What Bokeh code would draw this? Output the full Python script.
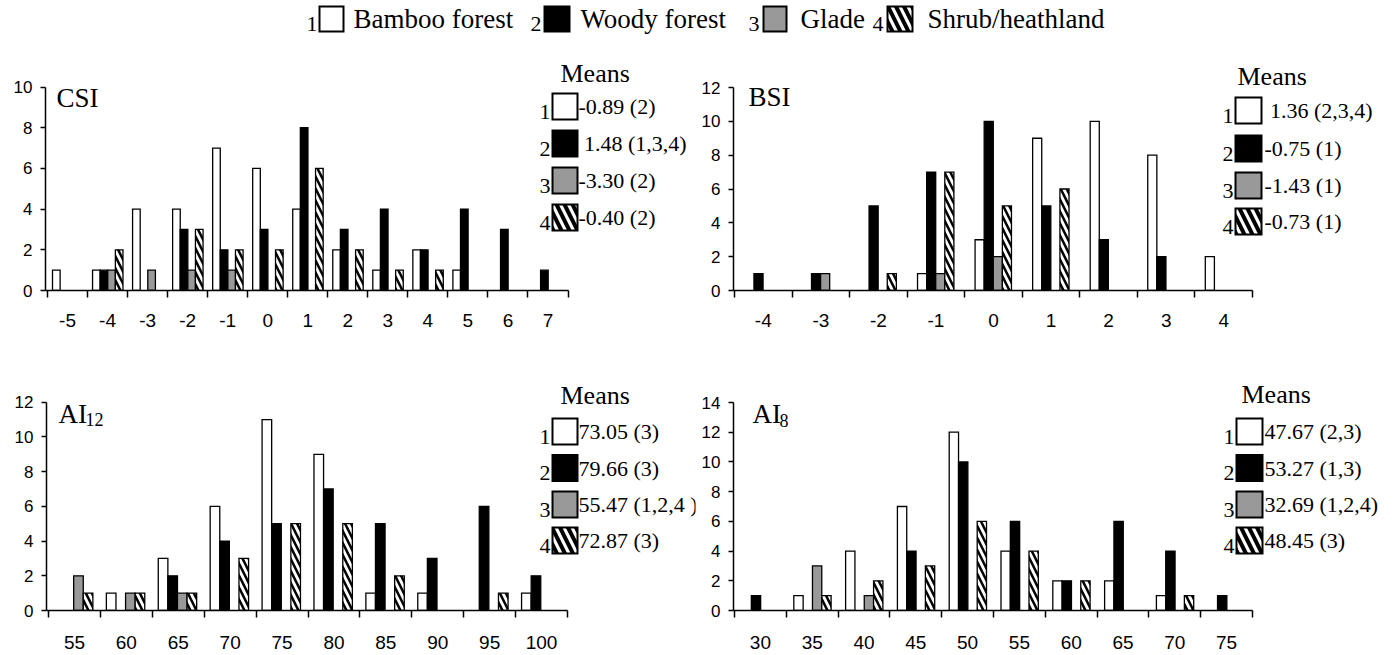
from bokeh.plotting import figure
from bokeh.layouts import column, row
from bokeh.models import FixedTicker, Range1d
from bokeh.core.properties import value
from bokeh.embed import file_html
from bokeh.resources import INLINE

# ---------------- data ----------------
series_names = ["Bamboo forest", "Woody forest", "Glade", "Shrub/heathland"]

csi_cats = ["-5", "-4", "-3", "-2", "-1", "0", "1", "2", "3", "4", "5", "6", "7"]
csi_bamboo = [1, 1, 4, 4, 7, 6, 4, 2, 1, 2, 1, 0, 0]
csi_woody = [0, 1, 0, 3, 2, 3, 8, 3, 4, 2, 4, 3, 1]
csi_glade = [0, 1, 1, 1, 1, 0, 0, 0, 0, 0, 0, 0, 0]
csi_shrub = [0, 2, 0, 3, 2, 2, 6, 2, 1, 1, 0, 0, 0]
csi_means = ["-0.89 (2)", "\u00a01.48 (1,3,4)", "-3.30 (2)", "-0.40 (2)"]

bsi_cats = ["-4", "-3", "-2", "-1", "0", "1", "2", "3", "4"]
bsi_bamboo = [0, 0, 0, 1, 3, 9, 10, 8, 2]
bsi_woody = [1, 1, 5, 7, 10, 5, 3, 2, 0]
bsi_glade = [0, 1, 0, 1, 2, 0, 0, 0, 0]
bsi_shrub = [0, 0, 1, 7, 5, 6, 0, 0, 0]
bsi_means = ["\u00a01.36 (2,3,4)", "-0.75 (1)", "-1.43 (1)", "-0.73 (1)"]

ai12_cats = ["55", "60", "65", "70", "75", "80", "85", "90", "95", "100"]
ai12_bamboo = [0, 1, 3, 6, 11, 9, 1, 1, 0, 1]
ai12_woody = [0, 0, 2, 4, 5, 7, 5, 3, 6, 2]
ai12_glade = [2, 1, 1, 0, 0, 0, 0, 0, 0, 0]
ai12_shrub = [1, 1, 1, 3, 5, 5, 2, 0, 1, 0]
ai12_means = ["73.05 (3)", "79.66 (3)", "55.47 (1,2,4 )", "72.87 (3)"]

ai8_cats = ["30", "35", "40", "45", "50", "55", "60", "65", "70", "75"]
ai8_bamboo = [0, 1, 4, 7, 12, 4, 2, 2, 1, 0]
ai8_woody = [1, 0, 0, 4, 10, 6, 2, 6, 4, 1]
ai8_glade = [0, 3, 1, 0, 0, 0, 0, 0, 0, 0]
ai8_shrub = [0, 1, 2, 3, 6, 4, 2, 0, 1, 0]
ai8_means = ["47.67 (2,3)", "53.27 (1,3)", "32.69 (1,2,4)", "48.45 (3)"]

# ---------------- styles ----------------
SERIF = value("Liberation Serif")
STYLES = [
    dict(fill_color="white", hatch_pattern=None),
    dict(fill_color="black", hatch_pattern=None),
    dict(fill_color="#999999", hatch_pattern=None),
    dict(fill_color="white", hatch_pattern="\\"),
]


def style_kw(k, scale=12, weight=2.5):
    st = STYLES[k]
    kw = dict(fill_color=st["fill_color"], line_color="black", line_join="miter")
    if st["hatch_pattern"]:
        kw.update(hatch_pattern=st["hatch_pattern"], hatch_color="black",
                  hatch_scale=scale, hatch_weight=weight)
    return kw


def add_text(p, x, y, txt, size, align="left"):
    p.text(x=[x], y=[y], text=[txt], text_font=SERIF, text_font_size=size,
           text_baseline="middle", text_align=align, text_color="black")


def build_panel(cfg):
    fig_x0, fig_y0, fig_w, fig_h = cfg["fig"]
    cats = cfg["cats"]
    n = len(cats)
    ax_x0, ax_x1 = cfg["ax_x0"], cfg["ax_x1"]
    frame_left = cfg["frame_left"]
    catw = (ax_x1 - ax_x0) / n
    y0_px, ytop_px, ymax = cfg["y0"], cfg["ytop"], cfg["ymax"]
    ppu = (y0_px - ytop_px) / ymax

    def X(px):
        return -0.5 + (px - ax_x0) / catw

    def Y(py):
        return (y0_px - py) / ppu

    frame_right = fig_x0 + fig_w - 2
    frame_top = fig_y0 + 2
    p = figure(width=fig_w, height=fig_h, output_backend="svg", toolbar_location=None,
               x_range=Range1d(X(frame_left), X(frame_right)),
               y_range=Range1d(0, Y(frame_top)),
               min_border_left=frame_left - fig_x0, min_border_right=2,
               min_border_top=2, min_border_bottom=fig_y0 + fig_h - y0_px)
    p.outline_line_color = None
    p.grid.visible = False
    p.background_fill_color = "white"
    p.border_fill_color = "white"

    # bars
    bs, bw = cfg["bar_start"], cfg["bar_w"]
    for k, vals in enumerate(cfg["series"]):
        xs = [i - 0.5 + bs + (k + 0.5) * bw for i, v in enumerate(vals) if v > 0]
        tops = [v for v in vals if v > 0]
        p.vbar(x=xs, top=tops, bottom=0, width=bw, line_width=1.3, **style_kw(k))

    # x axis
    xa = p.xaxis[0]
    xa.ticker = FixedTicker(ticks=list(range(n)), minor_ticks=[i - 0.5 for i in range(n + 1)])
    xa.major_label_overrides = {i: c for i, c in enumerate(cats)}
    xa.bounds = (X(frame_left), n - 0.5)
    xa.major_tick_line_color = None
    xa.major_tick_out = 0
    xa.major_tick_in = 0
    xa.minor_tick_out = 7
    xa.minor_tick_in = 0
    xa.minor_tick_line_width = 1.5
    xa.minor_tick_line_color = "black"
    xa.axis_line_width = 1.5
    xa.axis_line_color = "black"
    xa.major_label_standoff = cfg["xstand"]
    xa.major_label_text_font = "Liberation Sans"
    xa.major_label_text_font_size = cfg["xfs"]
    xa.major_label_text_color = "black"

    # y axis
    ya = p.yaxis[0]
    ya.ticker = FixedTicker(ticks=list(range(0, ymax + 1, 2)), minor_ticks=[])
    ya.bounds = (0, ymax)
    ya.major_tick_out = 5
    ya.major_tick_in = 0
    ya.major_tick_line_width = 1.5
    ya.minor_tick_line_color = None
    ya.axis_line_width = 1.5
    ya.axis_line_color = "black"
    ya.major_label_standoff = 8
    ya.major_label_text_font = "Liberation Sans"
    ya.major_label_text_font_size = "17px"
    ya.major_label_text_color = "black"

    # panel title (with optional subscript)
    add_text(p, X(cfg["label_x"]), Y(cfg["label_cy"]), cfg["label"], "27px")
    if cfg.get("sub"):
        add_text(p, X(cfg["sub_x"]), Y(cfg["sub_cy"]), cfg["sub"], "18px")

    # means legend
    add_text(p, X(cfg["means_x"]), Y(cfg["means_cy"]), "Means", "26px")
    bx0, bx1 = cfg["box_x"]
    for k, cy in enumerate(cfg["rows"]):
        p.quad(left=[X(bx0)], right=[X(bx1)], bottom=[Y(cy + 13)], top=[Y(cy - 13)],
               line_width=2, **style_kw(k, scale=16, weight=4))
        add_text(p, X(bx0 - 2), Y(cy + 5), str(k + 1), "22px", align="right")
        add_text(p, X(cfg["text_x"]), Y(cy), cfg["means"][k], "22px")
    return p


p1 = build_panel(dict(
    fig=(0, 45, 697, 300), cats=csi_cats,
    series=[csi_bamboo, csi_woody, csi_glade, csi_shrub],
    frame_left=45, ax_x0=47, ax_x1=567.5, y0=290, ytop=86.5, ymax=10,
    bar_start=0.125, bar_w=0.19, xstand=16, xfs="19px",
    label="CSI", label_x=56, label_cy=97.5,
    means_x=560, means_cy=73, box_x=(552, 577), rows=[106, 143, 180, 217],
    text_x=578, means=csi_means))

p2 = build_panel(dict(
    fig=(697, 45, 697, 300), cats=bsi_cats,
    series=[bsi_bamboo, bsi_woody, bsi_glade, bsi_shrub],
    frame_left=733, ax_x0=734, ax_x1=1252, y0=290, ytop=87, ymax=12,
    bar_start=0.18, bar_w=0.158, xstand=16, xfs="19px",
    label="BSI", label_x=748, label_cy=96,
    means_x=1237, means_cy=76, box_x=(1235, 1261), rows=[110, 148, 185, 221],
    text_x=1264, means=bsi_means))

p3 = build_panel(dict(
    fig=(0, 345, 697, 310), cats=ai12_cats,
    series=[ai12_bamboo, ai12_woody, ai12_glade, ai12_shrub],
    frame_left=46, ax_x0=48, ax_x1=567, y0=610, ytop=401.7, ymax=12,
    bar_start=0.115, bar_w=0.185, xstand=18, xfs="19px",
    label="AI", label_x=58, label_cy=413.5, sub="12", sub_x=85, sub_cy=419,
    means_x=560, means_cy=395, box_x=(552, 577), rows=[431, 467.5, 504, 540],
    text_x=578, means=ai12_means))

p4 = build_panel(dict(
    fig=(697, 345, 697, 310), cats=ai8_cats,
    series=[ai8_bamboo, ai8_woody, ai8_glade, ai8_shrub],
    frame_left=733, ax_x0=734, ax_x1=1252, y0=610, ytop=402, ymax=14,
    bar_start=0.145, bar_w=0.18, xstand=18, xfs="19px",
    label="AI", label_x=752, label_cy=413.5, sub="8", sub_x=779, sub_cy=420,
    means_x=1241, means_cy=393.5, box_x=(1236, 1262), rows=[431, 467.5, 504, 540],
    text_x=1264, means=ai8_means))

# ---------------- header legend ----------------
hdr = figure(width=1394, height=45, output_backend="svg", toolbar_location=None,
             x_range=Range1d(0, 1394), y_range=Range1d(45, 0),
             x_axis_type=None, y_axis_type=None,
             min_border_left=0, min_border_right=0, min_border_top=0, min_border_bottom=0)
hdr.outline_line_color = None
hdr.grid.visible = False
hdr_digit_right = [317, 541, 759, 883]
hdr_box = [(319, 343), (544, 569), (763, 786), (887, 912)]
hdr_label_x = [353, 580, 800, 927]
for k in range(4):
    hdr.quad(left=[hdr_box[k][0]], right=[hdr_box[k][1]], top=[6], bottom=[31],
             line_width=2, **style_kw(k, scale=16, weight=4))
    add_text(hdr, hdr_digit_right[k], 23, str(k + 1), "22px", align="right")
    add_text(hdr, hdr_label_x[k], 18, series_names[k], "27px")

layout = column(hdr, row(p1, p2), row(p3, p4))
open("out.html", "w").write(file_html(layout, INLINE))
